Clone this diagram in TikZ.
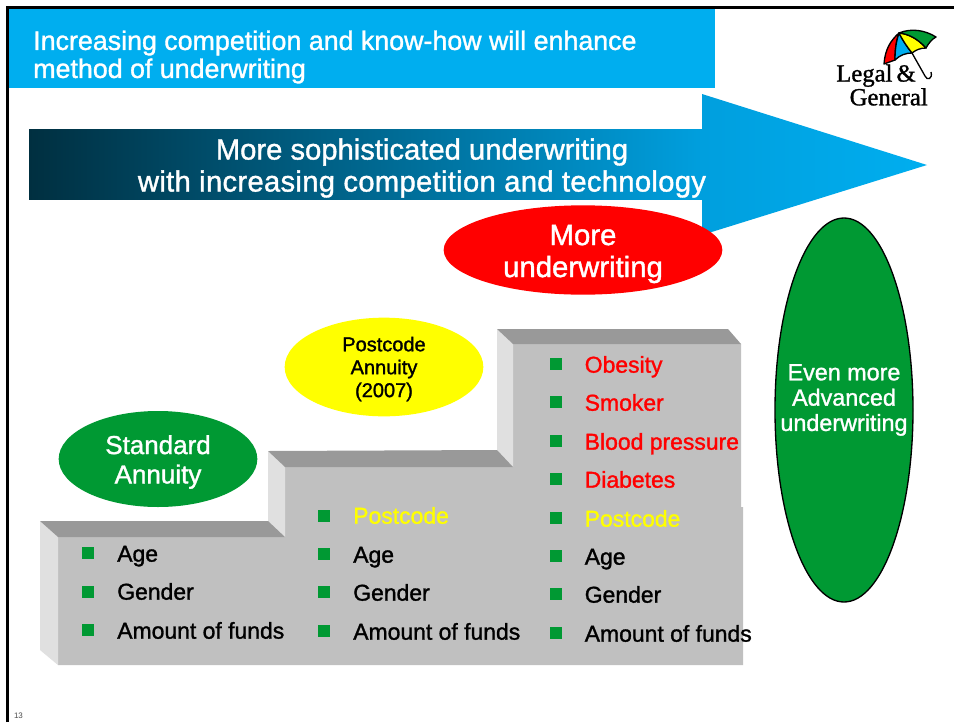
\documentclass[tikz,border=0pt]{standalone}
\usepackage{fontspec}
\setmainfont{Liberation Sans}
\newfontfamily\slidefont[FakeBold=1.3]{Liberation Sans}
\newfontfamily\logofont[FakeBold=1.2]{Liberation Serif}
\usetikzlibrary{shapes.geometric}
\definecolor{lgcyan}{HTML}{00AEEF}
\definecolor{lgnavy}{HTML}{002F40}
\definecolor{lgarrow}{HTML}{009FDE}
\definecolor{lggreen}{HTML}{009933}
\definecolor{lgyellow}{HTML}{FFFF00}
\definecolor{lgred}{HTML}{FF0000}
\definecolor{stepfront}{HTML}{C0C0C0}
\definecolor{steptop}{HTML}{999999}
\definecolor{stepside}{HTML}{E0E0E0}

\begin{document}
\begin{tikzpicture}[x=0.75pt, y=-0.75pt,
        bubble/.style={ellipse, inner sep=0pt},
        bubbletext/.style={inner sep=0pt, align=center},
        square/.style={rectangle, fill=lggreen, minimum size=9.4pt, inner sep=0pt},
        item/.style={anchor=west, inner sep=0pt, text height=12pt, text depth=0.5pt, font=\slidefont\fontsize{17.2}{20}\selectfont},
        panel/.style={draw=black, line width=1pt, line join=round},
        banner/.style={text=white, align=center, font=\slidefont\fontsize{21.9}{24}\selectfont}]
      \useasboundingbox (0,0) rectangle (954,722);
      % Frame
      \fill[white] (0,0) rectangle (954,722);
      \draw[line width=2.4pt] (7.5,722) -- (7.5,7.5) -- (954,7.5);

      % Title
      \fill[lgcyan] (9,9) rectangle (715,88);
      \node[anchor=west, text=white, align=left, inner sep=0pt, font=\slidefont\fontsize{20.1}{21}\selectfont] (title) at (33,57) {Increasing competition and know-how will enhance\\method of underwriting};

      % Logo
      \fill[lgred, panel] (884,64) .. controls (885,50) and (890,41) .. (899,33) .. controls (896,42) and (895,50) .. (895,60) -- cycle;
      \fill[lgcyan, panel] (895,60) .. controls (895,50) and (896,42) .. (899,33) .. controls (903,41) and (908,48) .. (912,53) .. controls (906,53) and (900,55) .. (895,60) -- cycle;
      \fill[lgyellow, panel] (899,33) .. controls (908,34) and (917,38) .. (926,48) .. controls (920,48) and (916,50) .. (912,53) .. controls (908,48) and (903,41) .. (899,33) -- cycle;
      \fill[lggreen, panel] (899,33) .. controls (911,28) and (925,30) .. (936,37) .. controls (932,39) and (928,44) .. (926,48) .. controls (917,38) and (908,34) .. (899,33) -- cycle;
      \draw[line width=1pt] (912,53) -- (925,76) .. controls (927,81) and (933,79) .. (931,72);
      \node[anchor=east, inner sep=0pt, align=right, font=\logofont\fontsize{18.5}{14.25}\selectfont] (logo) at (928,85) {Legal\,\&\hspace*{9pt}\\General};

      % Arrow
      \shade[left color=lgnavy, right color=lgarrow] (29,129) rectangle (702,199);
      \shade[left color=lgarrow, right color=lgcyan] (702,94) -- (927,165) -- (702,235) -- cycle;
      \node[banner] (arrowtext) at (422,168) {More sophisticated underwriting\\\addfontfeature{LetterSpace=1.05}with increasing competition and technology};

      % Ellipses
      \node[bubble, fill=lgred, minimum width=209pt, minimum height=67pt] (more) at (583,250) {};
      \node[bubbletext, text=white, font=\slidefont\fontsize{22}{24}\selectfont] (moretext) at (583,254) {More\\underwriting};
      \node[bubble, fill=lgyellow, minimum width=149pt, minimum height=74pt] (postcode) at (384,367) {};
      \node[bubbletext, text=black, font=\slidefont\fontsize{15}{17.2}\selectfont] (postcodetext) at (384,369) {Postcode\\Annuity\\(2007)};
      \node[bubble, fill=lggreen, minimum width=149pt, minimum height=72pt] (standard) at (158,459) {};
      \node[bubbletext, text=white, font=\slidefont\fontsize{19.5}{22}\selectfont] (standardtext) at (158,462) {Standard\\Annuity};
      \node[bubble, draw=black, line width=1pt, fill=lggreen, minimum width=103.5pt, minimum height=288pt] (advanced) at (844,410) {};
      \node[bubbletext, text=white, font=\slidefont\fontsize{17.5}{19}\selectfont] (advancedtext) at (844,400) {Even more\\Advanced\\underwriting};

      % Steps
      \fill[stepfront] (58,537) -- (285,537) -- (285,467) -- (513,467) -- (513,344) -- (741,344) -- (741,507) -- (743,507) -- (743,665) -- (58,665) -- cycle;
      \fill[stepside] (40,521) -- (58,537) -- (58,665) -- (40,650) -- cycle;
      \fill[stepside] (268,451) -- (285,467) -- (285,537) -- (268,521) -- cycle;
      \fill[stepside] (497,329) -- (513,344) -- (513,467) -- (497,450) -- cycle;
      \fill[steptop] (40,521) -- (268,521) -- (285,537) -- (58,537) -- cycle;
      \fill[steptop] (268,451) -- (497,450) -- (513,467) -- (285,467) -- cycle;
      \fill[steptop] (497,329) -- (728,329) -- (741,344) -- (513,344) -- cycle;

      % First step
      \node[square] (b1a) at (88,553) {};
      \node[square] (b1b) at (88,592) {};
      \node[square] (b1c) at (88,630) {};
      \node[item] (age1) at (117,554) {Age};
      \node[item] (gender1) at (117,592) {Gender};
      \node[item] (funds1) at (117,631) {Amount of funds};

      % Second step
      \node[square] (b2a) at (324,516) {};
      \node[square] (b2b) at (324,554) {};
      \node[square] (b2c) at (324,592) {};
      \node[square] (b2d) at (324,631) {};
      \node[item, text=lgyellow] (post2) at (353,516) {Postcode};
      \node[item] (age2) at (353,555) {Age};
      \node[item] (gender2) at (353,593) {Gender};
      \node[item] (funds2) at (353,632) {Amount of funds};

      % Third step
      \node[square] (b3a) at (556,364) {};
      \node[square] (b3b) at (556,402) {};
      \node[square] (b3c) at (556,441) {};
      \node[square] (b3d) at (556,479) {};
      \node[square] (b3e) at (556,518) {};
      \node[square] (b3f) at (556,556) {};
      \node[square] (b3g) at (556,594) {};
      \node[square] (b3h) at (556,633) {};
      \node[item, text=lgred] (obesity) at (584.5,365) {Obesity};
      \node[item, text=lgred] (smoker) at (584.5,403) {Smoker};
      \node[item, text=lgred] (blood) at (584.5,442) {Blood pressure};
      \node[item, text=lgred] (diabetes) at (584.5,480) {Diabetes};
      \node[item, text=lgyellow] (post3) at (584.5,519) {Postcode};
      \node[item] (age3) at (584.5,557) {Age};
      \node[item] (gender3) at (584.5,595) {Gender};
      \node[item] (funds3) at (584.5,634) {Amount of funds};

      % Page number
      \node[text=black!70, inner sep=0pt, font=\fontsize{6}{7}\selectfont] (page) at (18.5,716) {13};
    \end{tikzpicture}
\end{document}
